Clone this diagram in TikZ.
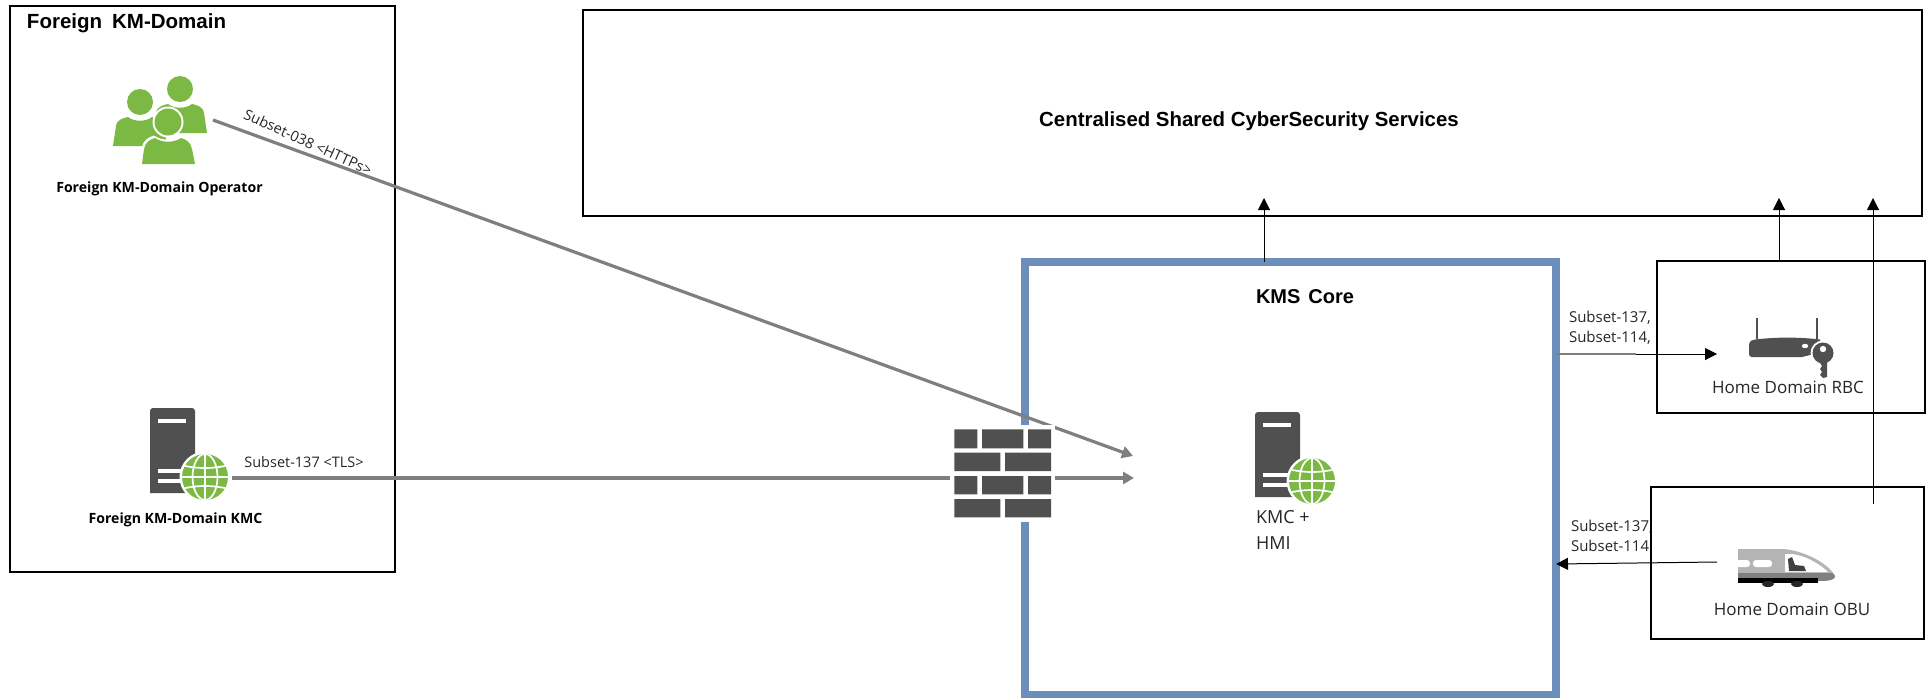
\documentclass[tikz,border=0pt]{standalone}
\usepackage{fontspec}
\setmainfont{Open Sans}
\newfontfamily\arialb[Scale=1]{Liberation Sans}
\usetikzlibrary{arrows.meta}
\definecolor{iconGreen}{HTML}{7CB944}
\definecolor{iconDark}{HTML}{505050}
\definecolor{coreBlue}{HTML}{6C8EBA}
\definecolor{lineGrey}{HTML}{7F7F7F}
\definecolor{trainGrey}{HTML}{B4B4B2}
\definecolor{txt}{HTML}{262626}
\tikzset{
  panel/.style={draw=black,line width=2.4pt,fill=white,inner sep=0pt,outer sep=0pt},
  corebox/.style={draw=coreBlue,line width=8.5pt,inner sep=0pt,outer sep=0pt},
  blkarrow/.style={draw=black,line width=1pt,-{Triangle[length=12pt,width=12pt,fill=black]}},
  greyarrow/.style={draw=lineGrey,line width=3.2pt,-{Triangle[length=11pt,width=12pt,fill=lineGrey]},shorten >=0pt},
  lbl/.style={inner sep=0pt,outer sep=0pt,text=txt,font=\fontsize{15}{19}\selectfont,align=left},
  linklbl/.style={inner sep=0pt,outer sep=0pt,text=txt,font=\fontsize{14.5}{19}\selectfont},
  homelbl/.style={inner sep=0pt,outer sep=0pt,text=txt,font=\fontsize{17}{26}\selectfont},
  kmclbl/.style={inner sep=0pt,outer sep=0pt,text=txt,font=\fontsize{18}{26}\selectfont,align=left},
  boldlbl/.style={inner sep=0pt,outer sep=0pt,text=black,font=\fontsize{14.1}{16}\selectfont\bfseries},
  titlelbl/.style={inner sep=0pt,outer sep=0pt,text=black,font=\arialb\fontsize{20.5}{24}\selectfont\bfseries},
  pics/globe/.style={code={
    \fill[white] (0,0) circle (25.5);
    \begin{scope}
      \clip (0,0) circle (23);
      \fill[iconGreen] (-24,-24) rectangle (24,24);
      \draw[white,line width=1.7pt] (0,-24) -- (0,24);
      \draw[white,line width=1.7pt] (0,0) ellipse (12.5 and 23);
      \draw[white,line width=1.7pt] (-24,0) -- (24,0);
      \draw[white,line width=1.7pt] (-24,-12) .. controls (-8,-8) and (8,-8) .. (24,-12);
      \draw[white,line width=1.7pt] (-24,12) .. controls (-8,8) and (8,8) .. (24,12);
    \end{scope}
  }},
  pics/server/.style={code={
    \fill[iconDark,rounded corners=3pt] (0,85) [sharp corners] -- (0,40) [rounded corners=3pt] -- (0,0) -- (45,0) -- (45,40) [sharp corners] -- (45,85) -- cycle;
    \fill[white] (8,11) rectangle (36,15);
    \fill[white] (8,61) rectangle (36,65);
    \fill[white] (8,71) rectangle (36,75);
  }},
  pics/person/.style={code={
    \fill[iconGreen] (0,-20) circle (13);
    \fill[iconGreen] (-27,24) -- (-24,4) .. controls (-23,-3) and (-16,-4) .. (-12,-5)
      .. controls (-6,0) and (6,0) .. (12,-5) .. controls (16,-4) and (23,-3) .. (24,4) -- (27,24) -- cycle;
  }},
}
\begin{document}
\begin{tikzpicture}[x=1pt,y=-1pt]
\useasboundingbox (0,0) rectangle (1928,697);

% panels
\node[panel,minimum width=385pt,minimum height=566pt] (foreign) at (202.5,289) {};
\node[panel,minimum width=1339pt,minimum height=206pt] (central) at (1252.5,113) {};
\node[corebox,minimum width=531pt,minimum height=433pt] (core) at (1290.5,478.5) {};
\node[lbl] (obulabela) at (1571,527) [anchor=west] {Subset-137,};
\node[lbl] (obulabelb) at (1571,546) [anchor=west] {Subset-114};
\node[panel,minimum width=268pt,minimum height=152pt] (rbc) at (1791,337) {};
\node[panel,minimum width=273pt,minimum height=152pt] (obu) at (1787.5,563) {};

% free ends
\coordinate (opfrom) at (213,120);
\coordinate (optip) at (1133,456);
\coordinate (kmcfrom) at (232,478);
\coordinate (coretip) at (1134,478);
\coordinate (t1) at (1264,198);
\coordinate (t2) at (1779,198);
\coordinate (t3) at (1873,198);
\coordinate (obufrom) at (1873,504);
\coordinate (rbctip) at (1717,354);
\coordinate (rbcmid) at (1636,354);
\coordinate (obustart) at (1717,562);
\coordinate (obutip) at (1556,564);

% black connectors
\draw[blkarrow] (core.north -| t1) -- (t1);
\draw[blkarrow] (rbc.north -| t2) -- (t2);
\draw[blkarrow] (obufrom) -- (t3);
\draw[blkarrow] (obustart) -- (obutip);
\draw[draw=lineGrey,line width=1.2pt] (core.east |- rbcmid) -- (rbcmid);
\draw[blkarrow] (rbcmid) -- (rbctip);

% grey connector behind firewall
\draw[greyarrow] (opfrom) -- (optip);

% firewall
\node[fill=white,inner sep=0pt,outer sep=0pt,minimum width=105pt,minimum height=97pt] (fw) at (1002.5,473.5) {};
\draw[greyarrow,-] (kmcfrom) -- (fw.west |- kmcfrom);
\draw[greyarrow] (fw.east |- coretip) -- (coretip);
\fill[iconDark]
  (954.3,429.3) rectangle (977.3,448.3)
  (982,429.3) rectangle (1023.3,448.3)
  (1028,429.3) rectangle (1051,448.3)
  (954.3,452.7) rectangle (1000.3,471)
  (1005,452.7) rectangle (1051,471)
  (954.3,476) rectangle (977.3,494.3)
  (982,476) rectangle (1023.3,494.3)
  (1028,476) rectangle (1051,494.3)
  (954.3,499) rectangle (1000.3,517.3)
  (1005,499) rectangle (1051,517.3);

% people icon
\begin{scope}[shift={(180,109)}]
  \pic at (0,0) {person};
\end{scope}
\begin{scope}[shift={(140,122)}]
  \pic at (0,0) {person};
\end{scope}
\fill[white] (168,122) circle (15.5);
\fill[white] (139,166) -- (142,148) .. controls (143,139) and (150,137) .. (154,135.5)
  .. controls (162,141) and (174,141) .. (182,135.5) .. controls (186,137) and (193,139) .. (195,148) -- (198,166) -- cycle;
\fill[iconGreen] (168,122) circle (13.5);
\fill[iconGreen] (142,164) -- (144,149) .. controls (145,142) and (151,139) .. (155,138)
  .. controls (162,143) and (174,143) .. (181,138) .. controls (185,139) and (191,142) .. (192,149) -- (195,164) -- cycle;

% servers
\begin{scope}[shift={(150,408)}] \pic at (0,0) {server}; \pic at (55,69) {globe}; \end{scope}
\begin{scope}[shift={(1255,412)}] \pic at (0,0) {server}; \pic at (57,69) {globe}; \end{scope}

% router with key
\fill[iconDark] (1749,344) .. controls (1749,341) and (1752,340) .. (1755,339.5) .. controls (1775,337) and (1800,337) .. (1820,339.5) -- (1822,352) -- (1802,357) -- (1752,357) .. controls (1750,357) and (1749,356) .. (1749,354) -- cycle;
\draw[iconDark,line width=2pt] (1757,339) -- (1757,318);
\draw[iconDark,line width=2pt] (1817,339) -- (1817,318);
\fill[white] (1805,346) ellipse (3.2 and 2.2);
\fill[white] (1823,353) circle (12.5);
\fill[iconDark] (1823,353) circle (10.5);
\fill[iconDark] (1820,358) -- (1827,358) -- (1827,377) -- (1823,378) -- (1820,375) -- (1822,372) -- (1820,369) -- (1822,366) -- (1820,363) -- cycle;
\fill[white] (1823,349) circle (3.2);

% train
\fill[trainGrey] (1738,549) -- (1782,549) .. controls (1805,550) and (1830,565) .. (1835,576) .. controls (1835,579) and (1832,581) .. (1818,581) -- (1738,581) -- cycle;
\fill[gray] (1738,573) -- (1832,573) -- (1835,576) .. controls (1835,579) and (1832,581) .. (1818,581) -- (1738,581) -- cycle;
\fill[black] (1738,578) rectangle (1818,583);
\fill[black!85] (1768,584) ellipse (6 and 3);
\fill[black!85] (1797,584) ellipse (6 and 3);
\fill[white,rounded corners=3pt] (1730,560) rectangle (1750,567);
\fill[white,rounded corners=3pt] (1753,560) rectangle (1772,567);
\fill[white] (1785,554) -- (1792,554) .. controls (1808,556) and (1822,566) .. (1828,572) -- (1785,572) -- cycle;
\fill[black!75] (1789,571) -- (1788,559) -- (1792,557) -- (1795,565) -- (1804,566) -- (1806,571) -- cycle;
\fill[white] (1726,555) rectangle (1738,572);

% text
\node[titlelbl,anchor=west] (foreigntitle) at (27,23) {Foreign\hspace{10pt}KM-Domain};
\node[boldlbl] (oplabel) at (159.5,189) {Foreign KM-Domain Operator};
\node[boldlbl] (kmclabel) at (175.5,520) {Foreign KM-Domain KMC};
\node[linklbl,rotate=-24.4] (subset038) at (308,142) {Subset-038 <HTTPs>};
\node[linklbl] (subset137) at (304,462) {Subset-137 <TLS>};
\node[titlelbl,font=\arialb\fontsize{20.4}{24}\selectfont\bfseries] (centraltitle) at (1249,121) {Centralised Shared CyberSecurity Services};
\node[titlelbl,font=\arialb\fontsize{20}{24}\selectfont\bfseries] (coretitle) at (1305,297) {KMS\hspace{8pt}Core};
\node[kmclbl,anchor=north west] (kmchmi) at (1256,510) {KMC +\\HMI};
\node[lbl,anchor=west] (rbclabela) at (1569,318) {Subset-137,};
\node[lbl,anchor=west] (rbclabelb) at (1569,338) {Subset-114,};
\node[homelbl] (rbcname) at (1788,387) {Home Domain RBC};
\node[homelbl] (obuname) at (1792,609) {Home Domain OBU};
\end{tikzpicture}
\end{document}
